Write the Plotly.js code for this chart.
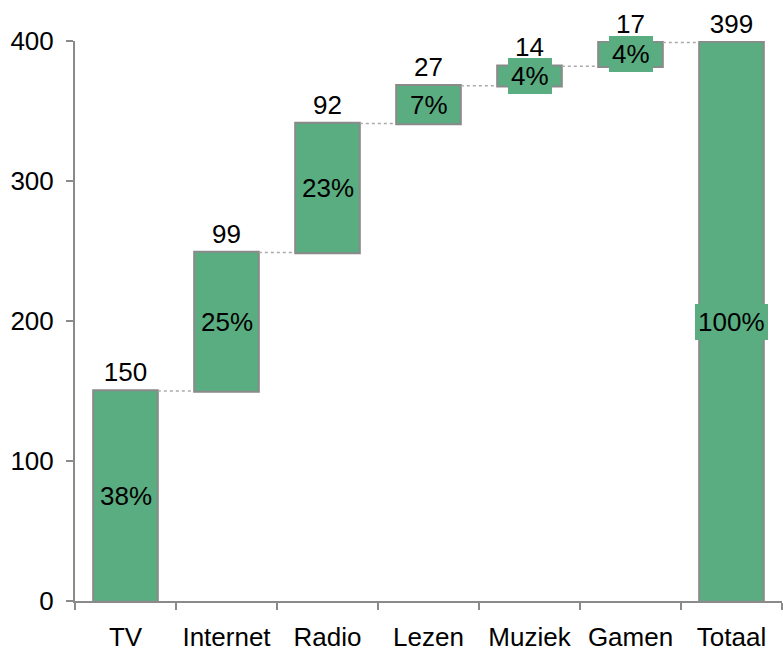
<!DOCTYPE html>
<html>
<head>
<meta charset="utf-8">
<script src="https://cdn.plot.ly/plotly-3.0.1.min.js"></script>
<style>html,body{margin:0;padding:0;background:#fff;}#chart{width:783px;height:657px;}</style>
</head>
<body>
<div id="chart"></div>
<script>
const categories = ["TV", "Internet", "Radio", "Lezen", "Muziek", "Gamen", "Totaal"];
const values = [150, 99, 92, 27, 14, 17, 399];
const measures = ["relative", "relative", "relative", "relative", "relative", "relative", "total"];
const percentLabels = ["38%", "25%", "23%", "7%", "4%", "4%", "100%"];

const barColor = "#5aad80";
const FONT = "Liberation Sans, Arial, sans-serif";
const FS = 26;

// midpoints of each bar, derived from the data
const mids = [];
let cum = 0;
for (let i = 0; i < values.length; i++) {
  if (measures[i] === "total") {
    mids.push(values[i] / 2);
  } else {
    mids.push(cum + values[i] / 2);
    cum += values[i];
  }
}

const trace = {
  type: "waterfall",
  x: categories,
  y: values,
  measure: measures,
  text: values.map(String),
  textposition: "outside",
  textfont: {family: FONT, size: FS, color: "#000"},
  cliponaxis: false,
  increasing: {marker: {color: barColor, line: {color: "#8a8a8a", width: 2}}},
  decreasing: {marker: {color: barColor, line: {color: "#8a8a8a", width: 2}}},
  totals: {marker: {color: barColor, line: {color: "#8a8a8a", width: 2}}},
  connector: {mode: "between", line: {color: "#aaaaaa", width: 1.5, dash: "dot"}},
  hoverinfo: "none"
};

const annotations = categories.map((c, i) => ({
  x: c, y: mids[i], xref: "x", yref: "y",
  text: percentLabels[i], showarrow: false,
  font: {family: FONT, size: FS, color: "#000"},
  bgcolor: barColor, borderpad: 3, borderwidth: 0
}));

const layout = {
  width: 783, height: 657,
  margin: {l: 75, r: 1, t: 41, b: 56},
  paper_bgcolor: "#fff", plot_bgcolor: "#fff",
  showlegend: false,
  waterfallgap: 0.36,
  font: {family: FONT, size: FS, color: "#000"},
  xaxis: {
    type: "category",
    tickson: "boundaries",
    ticks: "outside", ticklen: 7, tickwidth: 2, tickcolor: "#8a8a8a",
    showline: true, linecolor: "#8a8a8a", linewidth: 2,
    showgrid: false, zeroline: false,
    ticklabelstandoff: 12,
    tickfont: {family: FONT, size: FS, color: "#000"}
  },
  yaxis: {
    range: [0, 400], dtick: 100, tick0: 0,
    ticks: "outside", ticklen: 7, tickwidth: 2, tickcolor: "#8a8a8a",
    showline: true, linecolor: "#8a8a8a", linewidth: 2,
    showgrid: false, zeroline: false,
    ticklabelstandoff: 7,
    tickfont: {family: FONT, size: FS, color: "#000"}
  },
  annotations: annotations
};

Plotly.newPlot("chart", [trace], layout, {displayModeBar: false, staticPlot: true});
</script>
</body>
</html>
